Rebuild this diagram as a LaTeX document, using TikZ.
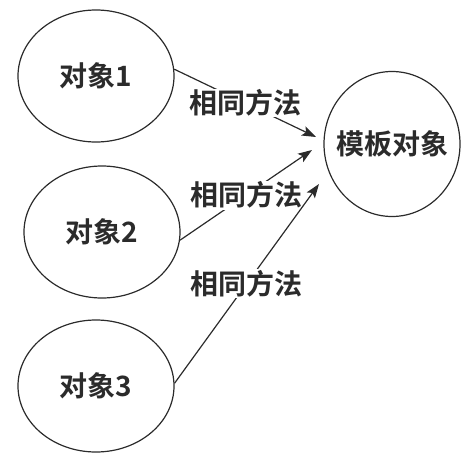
\documentclass[tikz,border=0pt]{standalone}
\usepackage{fontspec}
\newfontfamily\cjk{Noto Sans CJK SC}[BoldFont={Noto Sans CJK SC Bold}]
\usepackage{tikz}
\usetikzlibrary{positioning,shapes.geometric,arrows.meta}
\definecolor{ink}{HTML}{2B2B2B}
\tikzset{
        >={Stealth[length=14pt,width=10pt,inset=3pt]}, % arrow heads
        obj/.style={ellipse, draw=ink, line width=1.2pt, inner sep=0pt,
                minimum width=156pt, minimum height=132pt}, % the object ellipses
        txt/.style={text=ink, font=\cjk\bfseries\fontsize{28}{32}\selectfont}, % bold labels
        meth/.style={txt, fill=white, inner sep=1pt}, % label sitting on an edge
        edge/.style={->, draw=ink, line width=1.2pt},
}

\begin{document}
\begin{tikzpicture}[x=1pt,y=-1pt]
\useasboundingbox (0,0) rectangle (476,455);
\node[obj] (obj1) at (96,76) {};
\node[obj] (obj2) at (102,232) {};
\node[obj] (obj3) at (96,386) {};
\node[obj, minimum width=136pt, minimum height=145pt] (tmpl) at (392,144) {};
\node[txt] at (obj1) {对象1};
\node[txt] at (obj2) {对象2};
\node[txt] at (obj3) {对象3};
\node[txt] at (tmpl) {模板对象};
% arrow tips stop short of the template
\coordinate (in1) at (316,137);
\coordinate (in2) at (312,150);
\coordinate (in3) at (319,184);
\draw[edge] (obj1.5) -- node[meth] {相同方法} (in1);
\draw[edge] (obj2.-6) -- node[meth] {相同方法} (in2);
\draw[edge] (obj3.2) -- node[meth] {相同方法} (in3);

\end{tikzpicture}
\end{document}
